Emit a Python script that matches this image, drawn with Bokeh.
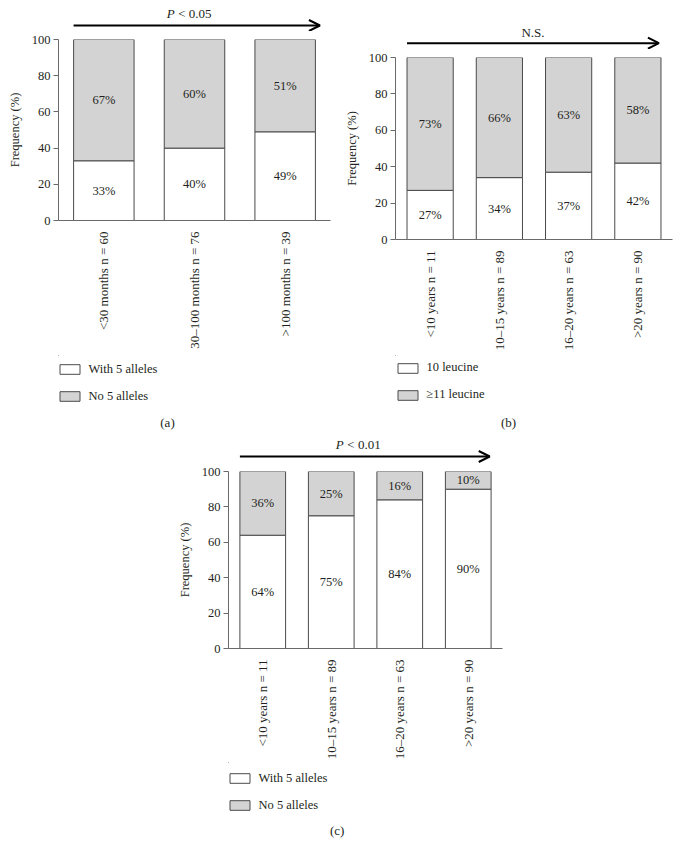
from math import pi
from bokeh.plotting import figure
from bokeh.models import (FactorRange, Range1d, FixedTicker, Legend, LegendItem,
                          Arrow, OpenHead, ColumnDataSource)
from bokeh.layouts import column, row
from bokeh.embed import file_html
from bokeh.resources import INLINE
from bokeh.core.properties import value

# ---------------- data ----------------
y_ticks = [0, 20, 40, 60, 80, 100]

a_groups = ["<30 months n = 60", "30\u2013100 months n = 76", ">100 months n = 39"]
a_lower = [33, 40, 49]          # with 5 alleles (%)
a_upper = [67, 60, 51]          # no 5 alleles (%)
a_legend = ["With 5 alleles", "No 5 alleles"]

b_groups = ["<10 years n = 11", "10\u201315 years n = 89", "16\u201320 years n = 63", ">20 years n = 90"]
b_lower = [27, 34, 37, 42]      # 10 leucine (%)
b_upper = [73, 66, 63, 58]      # >=11 leucine (%)
b_legend = ["10 leucine", "\u226511 leucine"]

c_groups = ["<10 years n = 11", "10\u201315 years n = 89", "16\u201320 years n = 63", ">20 years n = 90"]
c_lower = [64, 75, 84, 90]      # with 5 alleles (%)
c_upper = [36, 25, 16, 10]      # no 5 alleles (%)
c_legend = ["With 5 alleles", "No 5 alleles"]

FONT = "Liberation Serif"
TXT = "#231f20"
GREY = "#d3d3d3"
EDGE = "#4a4a4a"
AXIS = "#6a6a6a"
BAR_W = 0.667


def strip(xr, trend, width, height, b_left, b_right, arrow_y, text_y,
          arrow_end_extra, text_dx):
    # trend arrow above the bars; shares the x range of its chart, y in pixels from top
    p = figure(width=width, height=height, x_range=xr, y_range=Range1d(height, 0),
               x_axis_type=None, y_axis_type=None, output_backend="svg",
               toolbar_location=None, min_border_left=b_left, min_border_right=b_right,
               min_border_top=0, min_border_bottom=0)
    p.outline_line_color = None
    p.xgrid.visible = False
    p.ygrid.visible = False
    n = len(xr.factors)
    x0 = 0.5 - BAR_W / 2
    x1 = n - 0.5 + BAR_W / 2 + arrow_end_extra
    p.add_layout(Arrow(x_start=x0, y_start=arrow_y, x_end=x1, y_end=arrow_y,
                       line_color="black", line_width=2,
                       end=OpenHead(size=11, line_color="black", line_width=2)))
    xm = (x0 + x1) / 2
    if trend.startswith("<"):
        p.text(x=[xm], y=[text_y], text=["P"], x_offset=text_dx - 14, text_align="right",
               text_baseline="middle", text_font=value(FONT), text_font_size="13px",
               text_font_style="italic", text_color=TXT)
        p.text(x=[xm], y=[text_y], text=[trend], x_offset=text_dx - 10.5, text_align="left",
               text_baseline="middle", text_font=value(FONT), text_font_size="13px",
               text_color=TXT)
    else:
        p.text(x=[xm], y=[text_y], text=[trend], x_offset=text_dx, text_align="center",
               text_baseline="middle", text_font=value(FONT), text_font_size="13px",
               text_color=TXT)
    return p


def chart(groups, lower, upper, width, height, b_left, b_right, b_top, b_bottom):
    p = figure(width=width, height=height, x_range=FactorRange(factors=groups),
               y_range=Range1d(0, 100), output_backend="svg", toolbar_location=None,
               min_border_left=b_left, min_border_right=b_right,
               min_border_top=b_top, min_border_bottom=b_bottom)
    p.outline_line_color = None
    p.xgrid.visible = False
    p.ygrid.visible = False

    src = ColumnDataSource(dict(
        g=groups, lo=lower, up=upper,
        tot=[l + u for l, u in zip(lower, upper)],
        lo_mid=[l / 2 for l in lower],
        up_mid=[l + u / 2 for l, u in zip(lower, upper)],
        lo_txt=[f"{v}%" for v in lower],
        up_txt=[f"{v}%" for v in upper]))

    p.vbar(x="g", bottom=0, top="lo", width=BAR_W, source=src,
           fill_color="white", line_color=EDGE, line_width=1)
    p.vbar(x="g", bottom="lo", top="tot", width=BAR_W, source=src,
           fill_color=GREY, line_color=EDGE, line_width=1)

    for ycol, tcol in (("lo_mid", "lo_txt"), ("up_mid", "up_txt")):
        p.text(x="g", y=ycol, text=tcol, source=src, text_align="center",
               text_baseline="middle", text_font=value(FONT), text_font_size="12.5px",
               text_color=TXT)

    ay = p.yaxis[0]
    ay.ticker = FixedTicker(ticks=y_ticks)
    ay.axis_label = "Frequency (%)"
    ay.axis_label_text_font = FONT
    ay.axis_label_text_font_style = "normal"
    ay.axis_label_text_font_size = "12.5px"
    ay.axis_label_text_color = TXT
    ay.axis_label_standoff = 7
    ay.major_label_text_font = FONT
    ay.major_label_text_font_size = "12.5px"
    ay.major_label_text_color = TXT
    ay.major_label_standoff = 3
    ay.major_tick_out = 5
    ay.major_tick_in = 0
    ay.minor_tick_line_color = None
    ay.axis_line_color = AXIS
    ay.major_tick_line_color = AXIS

    ax = p.xaxis[0]
    ax.major_label_orientation = pi / 2
    ax.major_label_text_font = FONT
    ax.major_label_text_font_size = "13px"
    ax.major_label_text_color = TXT
    ax.major_label_standoff = 5
    ax.major_tick_line_color = None
    ax.minor_tick_line_color = None
    ax.axis_line_color = AXIS
    return p


def key(labels, caption, width, height, b_left, b_right, leg_x, leg_y, cap_x, cap_y):
    # legend + caption strip; its frame lines up with the chart frame above,
    # and data units equal figure pixels (x from the figure's left, y from its top)
    p = figure(width=width, height=height, x_range=Range1d(b_left, width - b_right),
               y_range=Range1d(height, 0), x_axis_type=None, y_axis_type=None,
               output_backend="svg", toolbar_location=None,
               min_border_left=b_left, min_border_right=b_right,
               min_border_top=0, min_border_bottom=0)
    p.outline_line_color = None
    p.xgrid.visible = False
    p.ygrid.visible = False
    # off-canvas proxies that only lend their style to the legend swatches
    proxy = ColumnDataSource(dict(x=[-1000], top=[-1000]))
    r1 = p.vbar(x="x", top="top", width=1, source=proxy,
                fill_color="white", line_color=EDGE, line_width=1)
    r2 = p.vbar(x="x", top="top", width=1, source=proxy,
                fill_color=GREY, line_color=EDGE, line_width=1)
    leg = Legend(items=[LegendItem(label=labels[0], renderers=[r1]),
                        LegendItem(label=labels[1], renderers=[r2])],
                 location=(leg_x - b_left, leg_y), orientation="vertical",
                 glyph_width=25, glyph_height=12, label_height=20,
                 label_standoff=7, spacing=7, padding=0, margin=0,
                 border_line_color=None, background_fill_alpha=0,
                 label_text_font=FONT, label_text_font_size="12.5px",
                 label_text_color=TXT)
    p.add_layout(leg)
    p.text(x=[cap_x], y=[cap_y], text=[caption], text_align="center",
           text_baseline="middle", text_font=value(FONT), text_font_size="13px",
           text_color=TXT)
    return p


pa = chart(a_groups, a_lower, a_upper, width=340, height=324,
           b_left=58, b_right=10, b_top=8, b_bottom=135)
sa = strip(pa.x_range, "< 0.05", width=340, height=31, b_left=58, b_right=10,
           arrow_y=25, text_y=13, arrow_end_extra=0.05, text_dx=-8)
ka = key(a_legend, "(a)", width=340, height=81, b_left=58, b_right=10,
         leg_x=56.5, leg_y=30, cap_x=167, cap_y=66.7)

pb = chart(b_groups, b_lower, b_upper, width=340, height=306,
           b_left=55, b_right=8, b_top=8, b_bottom=116)
sb = strip(pb.x_range, "N.S.", width=340, height=49, b_left=55, b_right=8,
           arrow_y=42.7, text_y=31.7, arrow_end_extra=-0.03, text_dx=0)
kb = key(b_legend, "(b)", width=340, height=81, b_left=55, b_right=8,
         leg_x=54.5, leg_y=31.5, cap_x=168, cap_y=67)

pc = chart(c_groups, c_lower, c_upper, width=680, height=299,
           b_left=228, b_right=178, b_top=8, b_bottom=110)
sc = strip(pc.x_range, "< 0.01", width=680, height=27, b_left=228, b_right=178,
           arrow_y=20, text_y=8, arrow_end_extra=-0.02, text_dx=-7)
kc = key(c_legend, "(c)", width=680, height=90, b_left=228, b_right=178,
         leg_x=226.5, leg_y=37, cap_x=336.7, cap_y=68)

layout = column(row(column(sa, pa, ka, spacing=0), column(sb, pb, kb, spacing=0), spacing=0),
                column(sc, pc, kc, spacing=0), spacing=0)
open("out.html", "w").write(file_html(layout, INLINE))
